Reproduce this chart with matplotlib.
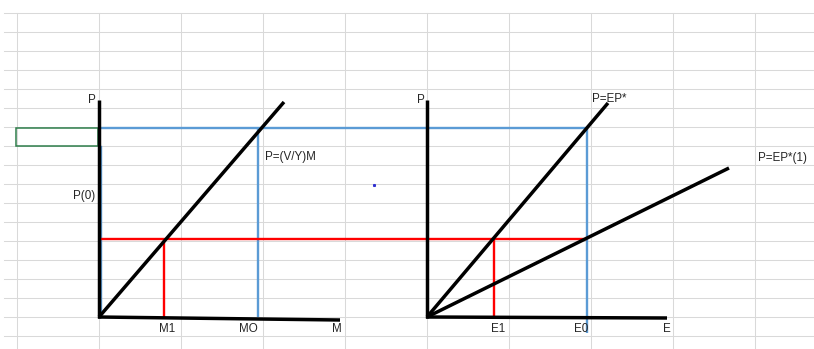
import matplotlib.pyplot as plt

# spreadsheet grid (pixel positions of the cell borders)
grid_cols = [16.6, 98.6, 180.6, 262.6, 344.6, 426.6, 508.6, 590.6, 672.6, 754.6]
grid_rows = [13.3, 32.3, 51.3, 70.3, 89.3, 108.3, 127.3, 146.3, 165.3, 184.3,
             203.3, 222.3, 241.3, 260.3, 279.3, 298.3, 317.3, 336.3]

# money market diagram (left)
m_origin = (99, 317)
m_axis_top = (99, 100)
m_axis_end = (340, 320)
m_curve_end = (284, 102)
p_high = 128
p_low = 239
m0_x = 257.5
m1_x = 164

# exchange rate diagram (right)
e_origin = (427, 317)
e_axis_top = (427, 100)
e_axis_end = (667, 318)
ep_end = (608, 103)
ep1_end = (729, 168)
e0_x = 587
e1_x = 494

# (text, x, y) labels
labels = [("P", 88, 100), ("P(0)", 73, 195.5), ("P=(V/Y)M", 265, 157),
          ("M1", 159, 329), ("MO", 239, 329), ("M", 332, 329),
          ("P", 417, 100), ("P=EP*", 592, 99), ("P=EP*(1)", 758, 157.5),
          ("E1", 491, 329), ("E0", 574, 329), ("E", 663, 329)]

BLUE = "#5b9bd5"
RED = "#ff0000"
BLACK = "#000000"

fig = plt.figure(figsize=(8.14, 3.49), dpi=100)
ax = fig.add_axes([0, 0, 1, 1])
ax.set_xlim(0, 814)
ax.set_ylim(349, 0)
ax.axis("off")

for x in grid_cols:
    ax.plot([x, x], [13, 349], color="#d9d9d9", lw=0.75, zorder=1)
for y in grid_rows:
    ax.plot([4, 814], [y, y], color="#d9d9d9", lw=0.75, zorder=1)

# selected cell
ax.add_patch(plt.Rectangle((16, 127.5), 82, 18.8, fill=False,
                           edgecolor="#2e7d4a", lw=1.1, zorder=2))

kw = dict(lw=1.7, solid_capstyle="butt", zorder=3)
# blue: original price level
ax.plot([99, e0_x], [p_high, p_high], color=BLUE, **kw)
ax.plot([m0_x, m0_x], [p_high, m_origin[1]], color=BLUE, **kw)
ax.plot([e0_x, e0_x], [p_high, 333], color=BLUE, **kw)
ax.plot([100.5, 100.5], [146, m_origin[1]], color=BLUE, lw=1.0, zorder=3)
# red: new price level
ax.plot([99, e0_x], [p_low, p_low], color=RED, **kw)
ax.plot([m1_x, m1_x], [p_low, m_origin[1]], color=RED, **kw)
ax.plot([e1_x, e1_x], [p_low, e_origin[1]], color=RED, **kw)

bk = dict(color=BLACK, lw=2.5, solid_capstyle="butt", zorder=4)
for o, top, end, curves in [(m_origin, m_axis_top, m_axis_end, [m_curve_end]),
                            (e_origin, e_axis_top, e_axis_end, [ep_end, ep1_end])]:
    ax.plot([o[0], top[0]], [o[1] + 1, top[1]], **bk)
    ax.plot([o[0] - 1, end[0]], [o[1], end[1]], **bk)
    for c in curves:
        ax.plot([o[0], c[0]], [o[1], c[1]], **bk)

ax.plot([374], [185], marker="s", ms=1.2, color="#3030d0", zorder=5)

for txt, x, y in labels:
    ax.text(x, y, txt, fontsize=8.4, family="Liberation Sans", color="#262626",
            ha="left", va="center", zorder=6)

fig.savefig("out.png", dpi=100)
